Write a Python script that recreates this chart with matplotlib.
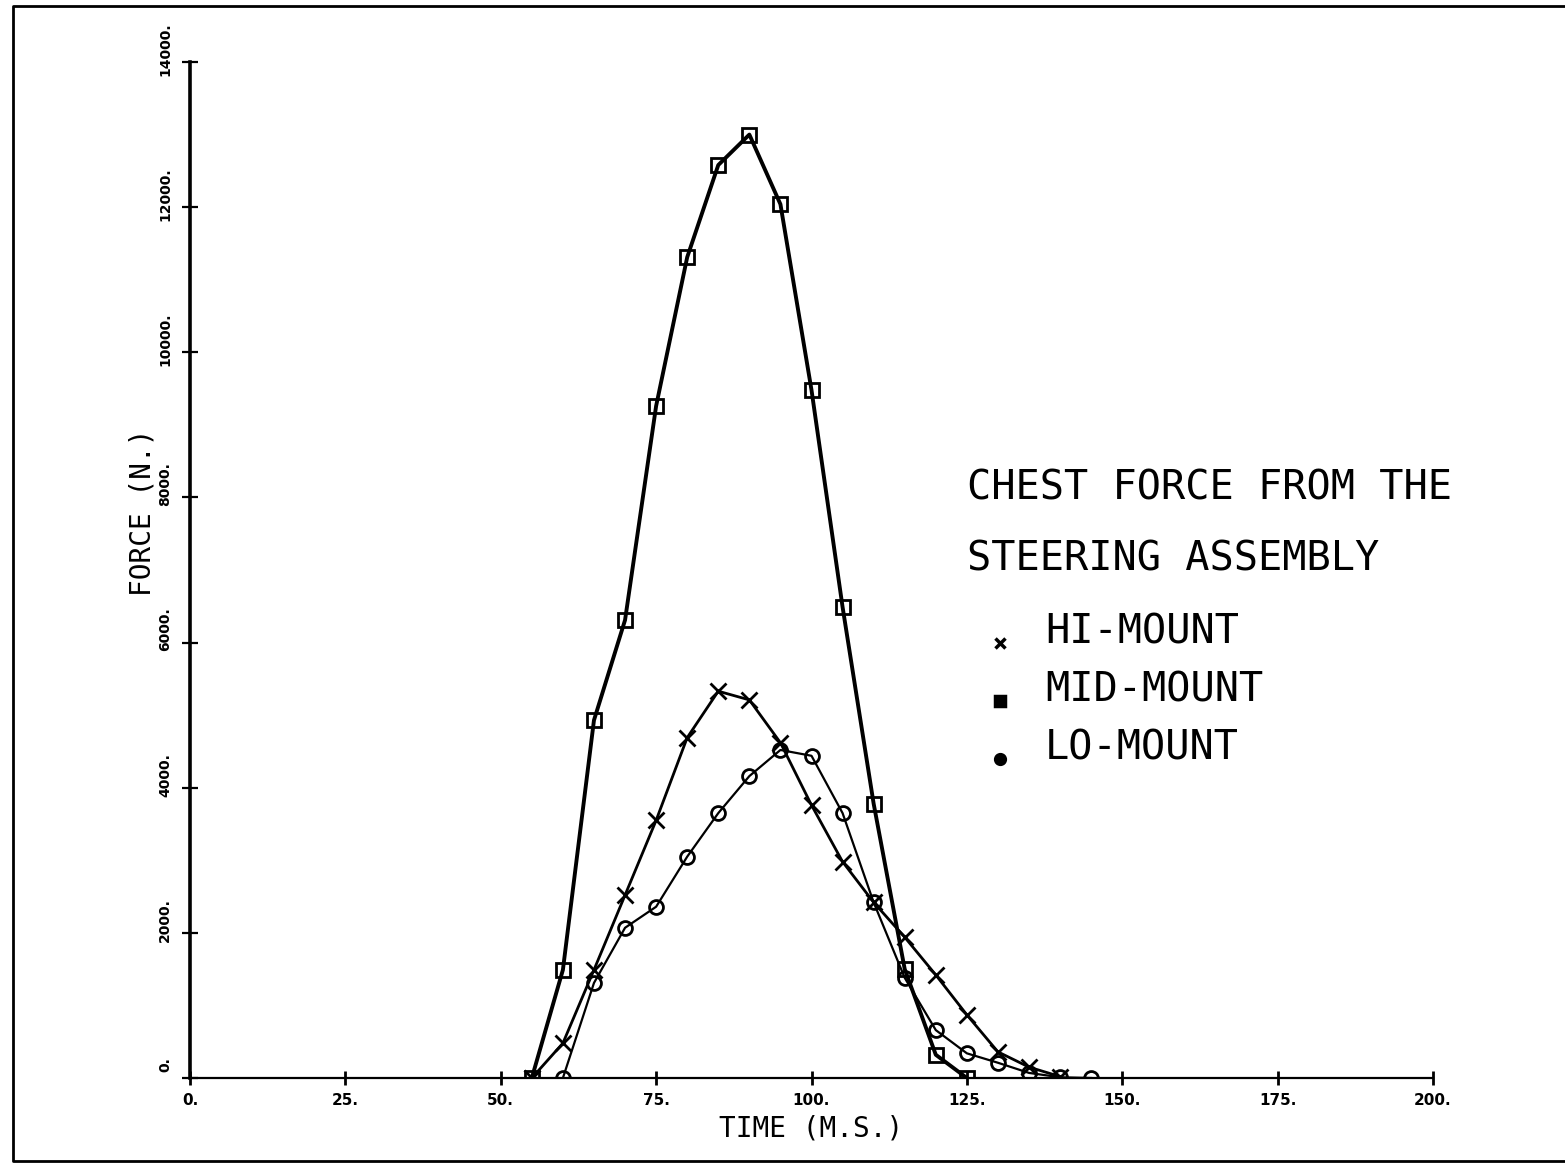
import matplotlib
matplotlib.use("Agg")
import matplotlib.pyplot as plt
from matplotlib.lines import Line2D
from matplotlib.transforms import ScaledTranslation

# time (ms) and chest force (N)
hi_t = [55, 60, 65, 70, 75, 80, 85, 90, 95, 100, 105, 110, 115, 120, 125, 130, 135, 140]
hi_f = [0, 480, 1490, 2520, 3550, 4690, 5330, 5210, 4620, 3760, 2980, 2420, 1940, 1420, 870, 360, 150, 20]

mid_t = [55, 60, 65, 70, 75, 80, 85, 90, 95, 100, 105, 110, 115, 120, 125]
mid_f = [0, 1490, 4930, 6310, 9260, 11310, 12580, 13000, 12040, 9480, 6490, 3780, 1500, 320, 0]

lo_t = [60, 65, 70, 75, 80, 85, 90, 95, 100, 105, 110, 115, 120, 125, 130, 135, 140, 145]
lo_f = [0, 1310, 2070, 2360, 3050, 3650, 4160, 4520, 4440, 3650, 2420, 1380, 660, 340, 210, 70, 10, 0]

xticks = [0, 25, 50, 75, 100, 125, 150, 175, 200]
yticks = [0, 2000, 4000, 6000, 8000, 10000, 12000, 14000]

mono = "DejaVu Sans Mono"

fig = plt.figure(figsize=(15.65, 11.66), dpi=100)
ax = fig.add_axes([190 / 1565, 1 - 1078 / 1166, 1243 / 1565, 1016 / 1166])

ax.plot(mid_t, mid_f, color="black", lw=2.8, marker="s", ms=10, mfc="none", mew=2.0, zorder=3)
ax.plot(hi_t, hi_f, color="black", lw=2.0, marker="x", ms=12, mew=2.0, zorder=3)
ax.plot(lo_t, lo_f, color="black", lw=1.6, marker="o", ms=10, mfc="none", mew=2.0, zorder=3)

ax.set_xlim(0, 200)
ax.set_ylim(0, 14000)
for s in ["top", "right"]:
    ax.spines[s].set_visible(False)
ax.spines["left"].set_linewidth(2.6)
ax.spines["bottom"].set_linewidth(1.6)

ax.set_xticks(xticks)
ax.set_xticklabels([f"{t}." for t in xticks], fontsize=11, fontweight="bold")
ax.set_yticks(yticks)
ax.set_yticklabels([f"{v}." for v in yticks], fontsize=10, fontweight="bold",
                   rotation=90, va="center")
ax.tick_params(axis="x", direction="inout", length=10, width=2, pad=6)
ax.tick_params(axis="y", direction="inout", length=12, width=1.6, pad=7)
for lab in ax.get_yticklabels():
    lab.set_transform(lab.get_transform() + ScaledTranslation(0, 0.13, fig.dpi_scale_trans))

fig.text(811 / 1565, 1 - 1128 / 1166, "TIME (M.S.)", family=mono, fontsize=20,
         ha="center", va="center")
fig.text(143 / 1565, 1 - 512 / 1166, "FORCE (N.)", family=mono, fontsize=20,
         ha="center", va="center", rotation=90)

# title and legend block
fig.text(967 / 1565, 1 - 489 / 1166, "CHEST FORCE FROM THE", family=mono, fontsize=29,
         ha="left", va="center")
fig.text(967 / 1565, 1 - 560 / 1166, "STEERING ASSEMBLY", family=mono, fontsize=29,
         ha="left", va="center")
legend_items = [("x", "HI-MOUNT", 632), ("s", "MID-MOUNT", 690), ("o", "LO-MOUNT", 748)]
for mk, name, ypx in legend_items:
    fig.text(1045 / 1565, 1 - ypx / 1166, name, family=mono, fontsize=29, ha="left", va="center")
    fig.add_artist(Line2D([1000 / 1565], [1 - (ypx + 11) / 1166], marker=mk, ms=7,
                          mew=2.5, color="black", mfc="black" if mk != "x" else "none",
                          linestyle="none", transform=fig.transFigure))

# page border from the scan (left, top and bottom edges)
fig.add_artist(Line2D([1, 13 / 1565, 13 / 1565, 1],
                      [1 - 6 / 1166, 1 - 6 / 1166, 1 - 1161 / 1166, 1 - 1161 / 1166],
                      color="black", lw=2, transform=fig.transFigure))

fig.savefig("out.png", dpi=100)
